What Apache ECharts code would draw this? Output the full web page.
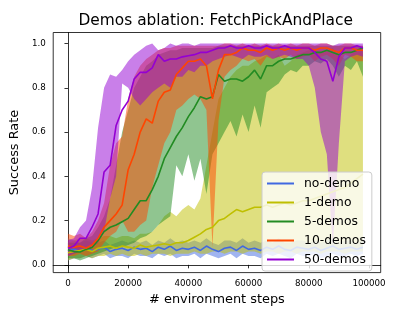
<!DOCTYPE html>
<html><head><meta charset="utf-8">
<script src="https://cdn.jsdelivr.net/npm/echarts@6/dist/echarts.min.js"></script>
<style>html,body{margin:0;padding:0;background:#fff}#c{width:408px;height:311px}</style>
</head><body><div id="c"></div>
<script>
const steps = [0,2000,4000,6000,8000,10000,12000,14000,16000,18000,20000,22000,24000,26000,28000,30000,32000,34000,36000,38000,40000,42000,44000,46000,48000,50000,52000,54000,56000,58000,60000,62000,64000,66000,68000,70000,72000,74000,76000,78000,80000,82000,84000,86000,88000,90000,92000,94000,96000,98000];
const seriesNames = ['no-demo','1-demo','5-demos','10-demos','50-demos'];
const xTicks = [0,20000,40000,60000,80000,100000];
const yTicks = [0.0,0.2,0.4,0.6,0.8,1.0];

const noDemoMean = [0.065,0.07,0.06,0.075,0.065,0.07,0.08,0.06,0.07,0.075,0.065,0.08,0.07,0.075,0.06,0.08,0.07,0.085,0.065,0.075,0.07,0.08,0.065,0.085,0.07,0.06,0.075,0.08,0.065,0.085,0.07,0.075,0.065,0.08,0.07,0.085,0.07,0.065,0.08,0.075,0.07,0.08,0.065,0.075,0.085,0.07,0.075,0.08,0.07,0.08];
const noDemoLow = [0.02,0.03,0.03,0.04,0.03,0.04,0.05,0.03,0.04,0.04,0.03,0.05,0.04,0.04,0.03,0.05,0.04,0.05,0.03,0.04,0.04,0.05,0.03,0.05,0.04,0.03,0.04,0.05,0.03,0.05,0.04,0.04,0.03,0.05,0.04,0.05,0.04,0.03,0.05,0.04,0.04,0.05,0.03,0.04,0.05,0.04,0.04,0.05,0.04,0.05];
const noDemoHigh = [0.12,0.11,0.10,0.11,0.10,0.10,0.11,0.09,0.10,0.11,0.10,0.11,0.10,0.11,0.09,0.11,0.10,0.12,0.10,0.11,0.10,0.11,0.10,0.12,0.10,0.09,0.11,0.11,0.10,0.12,0.10,0.11,0.10,0.11,0.10,0.12,0.10,0.10,0.11,0.11,0.10,0.11,0.10,0.11,0.12,0.10,0.11,0.11,0.10,0.11];

const oneDemoMean = [0.055,0.06,0.065,0.07,0.06,0.075,0.08,0.085,0.075,0.085,0.08,0.075,0.09,0.08,0.085,0.09,0.095,0.09,0.1,0.1,0.11,0.125,0.14,0.16,0.17,0.2,0.21,0.23,0.25,0.24,0.25,0.26,0.26,0.27,0.26,0.27,0.28,0.27,0.28,0.29,0.29,0.3,0.31,0.32,0.33,0.34,0.35,0.37,0.39,0.41];
const oneDemoLow = [0.02,0.03,0.03,0.04,0.03,0.04,0.04,0.05,0.04,0.05,0.04,0.04,0.05,0.04,0.05,0.05,0.05,0.04,0.05,0.05,0.05,0.06,0.05,0.05,0.06,0.06,0.05,0.06,0.06,0.05,0.06,0.06,0.05,0.06,0.06,0.05,0.06,0.06,0.05,0.06,0.06,0.06,0.05,0.06,0.06,0.06,0.05,0.06,0.06,0.06];
const oneDemoHigh = [0.10,0.11,0.12,0.12,0.11,0.12,0.13,0.13,0.12,0.13,0.13,0.12,0.14,0.14,0.15,0.18,0.22,0.24,0.22,0.25,0.27,0.25,0.3,0.45,0.6,0.75,0.8,0.85,0.88,0.9,0.9,0.92,0.93,0.95,0.93,0.95,0.9,0.92,0.95,0.96,0.97,0.97,0.96,0.97,0.98,0.95,0.93,0.95,0.97,0.97];

const fiveDemoMean = [0.068,0.06,0.058,0.07,0.078,0.11,0.15,0.17,0.18,0.195,0.21,0.25,0.29,0.29,0.34,0.40,0.48,0.53,0.58,0.62,0.67,0.71,0.76,0.75,0.76,0.86,0.83,0.84,0.84,0.83,0.85,0.88,0.84,0.9,0.9,0.92,0.93,0.93,0.94,0.95,0.95,0.96,0.96,0.97,0.96,0.95,0.96,0.96,0.97,0.98];
const fiveDemoLow = [0.03,0.03,0.02,0.03,0.04,0.05,0.06,0.07,0.08,0.08,0.09,0.1,0.12,0.13,0.15,0.18,0.2,0.22,0.45,0.4,0.5,0.38,0.48,0.32,0.5,0.55,0.6,0.65,0.58,0.68,0.6,0.72,0.62,0.78,0.8,0.82,0.86,0.88,0.87,0.9,0.9,0.92,0.91,0.93,0.9,0.85,0.9,0.88,0.92,0.85];
const fiveDemoHigh = [0.1,0.1,0.1,0.12,0.13,0.17,0.22,0.3,0.45,0.6,0.7,0.8,0.85,0.9,0.92,0.95,0.96,0.97,0.97,0.98,0.98,0.98,0.98,0.98,0.98,0.99,0.99,0.99,0.99,0.99,0.99,0.99,0.99,0.99,0.99,0.99,0.99,0.99,0.99,0.99,0.99,0.99,0.99,0.99,0.99,0.99,0.99,0.99,0.99,0.99];

const tenDemoMean = [0.085,0.08,0.085,0.075,0.09,0.12,0.17,0.2,0.23,0.27,0.43,0.5,0.6,0.66,0.64,0.74,0.78,0.79,0.86,0.89,0.92,0.92,0.93,0.9,0.75,0.88,0.95,0.95,0.96,0.98,0.97,0.97,0.96,0.98,0.97,0.98,0.97,0.98,0.97,0.98,0.98,0.97,0.98,0.98,0.97,0.96,0.98,0.98,0.97,0.97];
const tenDemoLow = [0.04,0.04,0.05,0.04,0.05,0.06,0.1,0.13,0.15,0.2,0.15,0.15,0.18,0.2,0.35,0.45,0.55,0.6,0.7,0.72,0.75,0.77,0.75,0.7,0.08,0.65,0.85,0.88,0.9,0.93,0.92,0.93,0.9,0.94,0.93,0.94,0.93,0.95,0.93,0.94,0.95,0.92,0.94,0.95,0.93,0.9,0.95,0.94,0.92,0.92];
const tenDemoHigh = [0.14,0.13,0.14,0.12,0.15,0.2,0.28,0.45,0.55,0.58,0.75,0.85,0.9,0.93,0.95,0.97,0.98,0.98,0.99,0.99,0.99,0.99,0.99,0.99,0.99,0.99,1.0,1.0,0.99,1.0,0.99,1.0,0.99,1.0,0.99,1.0,0.99,1.0,0.99,1.0,1.0,0.99,1.0,1.0,0.99,0.99,1.0,1.0,0.99,0.99];

const fiftyDemoMean = [0.075,0.085,0.12,0.12,0.17,0.23,0.42,0.45,0.63,0.7,0.74,0.84,0.87,0.87,0.89,0.95,0.92,0.93,0.93,0.94,0.945,0.95,0.96,0.96,0.97,0.98,0.98,0.99,0.98,0.98,0.99,0.98,0.98,0.99,0.98,0.98,0.99,0.98,0.98,0.98,0.98,0.96,0.93,0.92,0.83,0.94,0.98,0.98,0.99,0.98];
const fiftyDemoLow = [0.04,0.05,0.06,0.07,0.08,0.1,0.15,0.3,0.4,0.82,0.8,0.75,0.72,0.75,0.78,0.8,0.82,0.8,0.85,0.85,0.88,0.87,0.9,0.9,0.92,0.93,0.94,0.95,0.94,0.93,0.95,0.94,0.94,0.95,0.93,0.94,0.95,0.94,0.93,0.93,0.9,0.8,0.6,0.5,0.08,0.55,0.92,0.94,0.95,0.94];
const fiftyDemoHigh = [0.11,0.12,0.17,0.2,0.35,0.62,0.8,0.86,0.85,0.88,0.92,0.95,0.97,0.99,1.0,0.97,0.98,1.0,0.99,1.0,1.0,0.99,1.0,1.0,1.0,1.0,1.0,1.0,1.0,1.0,1.0,1.0,1.0,1.0,1.0,1.0,1.0,1.0,1.0,1.0,1.0,1.0,1.0,1.0,0.99,1.0,1.0,1.0,1.0,1.0];

const colors = ['#4169e1','#bfbf00','#228b22','#ff4500','#9400d3'];
const groups = [
  {mean: noDemoMean, low: noDemoLow, high: noDemoHigh},
  {mean: oneDemoMean, low: oneDemoLow, high: oneDemoHigh},
  {mean: fiveDemoMean, low: fiveDemoLow, high: fiveDemoHigh},
  {mean: tenDemoMean, low: tenDemoLow, high: tenDemoHigh},
  {mean: fiftyDemoMean, low: fiftyDemoLow, high: fiftyDemoHigh}
];
const FONT = 'DejaVu Sans';
const series = [];
groups.forEach((g, k) => {
  series.push({
    type: 'custom', silent: true, clip: true, z: 2,
    data: [[steps[0], g.low[0]]],
    renderItem: (params, api) => {
      const pts = [];
      for (let i = 0; i < steps.length; i++) pts.push(api.coord([steps[i], g.high[i]]));
      for (let i = steps.length - 1; i >= 0; i--) pts.push(api.coord([steps[i], g.low[i]]));
      return {type: 'polygon', shape: {points: pts}, style: {fill: colors[k], opacity: 0.5}};
    }
  });
});
groups.forEach((g, k) => {
  series.push({type: 'line', name: seriesNames[k], symbol: 'none', color: colors[k],
    lineStyle: {color: colors[k], width: 1.6}, data: steps.map((x, i) => [x, g.mean[i]]), z: 3});
});

const chart = echarts.init(document.getElementById('c'), null, {renderer: 'canvas'});
chart.setOption({
  animation: false,
  backgroundColor: '#ffffff',
  textStyle: {fontFamily: FONT},
  title: {text: 'Demos ablation: FetchPickAndPlace', left: 215.7, top: 13.7, padding: 0, textAlign: 'center',
    textStyle: {fontFamily: FONT, fontSize: 15.4, fontWeight: 'normal', color: '#000'}},
  grid: {left: 50.7, right: 27.3, top: 32.5, bottom: 33.7, show: true, borderColor: '#000', borderWidth: 0.8, containLabel: false},
  legend: {
    data: seriesNames, orient: 'vertical', left: 262, top: 172, icon: 'rect', itemWidth: 27, itemHeight: 2,
    itemGap: 4, padding: [4, 6, 4, 5], backgroundColor: 'rgba(255,255,255,0.8)', borderColor: '#cccccc',
    borderWidth: 1, borderRadius: 3,
    textStyle: {fontFamily: FONT, fontSize: 12.4, lineHeight: 15, color: '#000', padding: [0, 0, 0, 5]}
  },
  xAxis: {
    type: 'value', min: -4900, max: 103900,
    name: '# environment steps', nameLocation: 'middle', nameGap: 17,
    nameTextStyle: {fontFamily: FONT, fontSize: 12.9, color: '#000'},
    axisLine: {show: true, lineStyle: {color: '#000', width: 0.8}},
    axisTick: {show: true, length: 3.5, lineStyle: {color: '#000', width: 0.8}, customValues: xTicks},
    axisLabel: {fontFamily: FONT, fontSize: 8.7, color: '#000', margin: 6.5, customValues: xTicks,
      formatter: v => String(v)},
    splitLine: {show: false}
  },
  yAxis: {
    type: 'value', min: -0.035, max: 1.05,
    name: 'Success Rate', nameLocation: 'middle', nameGap: 26,
    nameTextStyle: {fontFamily: FONT, fontSize: 12.9, color: '#000'},
    axisLine: {show: true, lineStyle: {color: '#000', width: 0.8}},
    axisTick: {show: true, length: 3.5, lineStyle: {color: '#000', width: 0.8}, customValues: yTicks},
    axisLabel: {fontFamily: FONT, fontSize: 8.7, color: '#000', margin: 7.5, customValues: yTicks,
      formatter: v => v.toFixed(1)},
    splitLine: {show: false}
  },
  series: series
});
</script></body></html>
